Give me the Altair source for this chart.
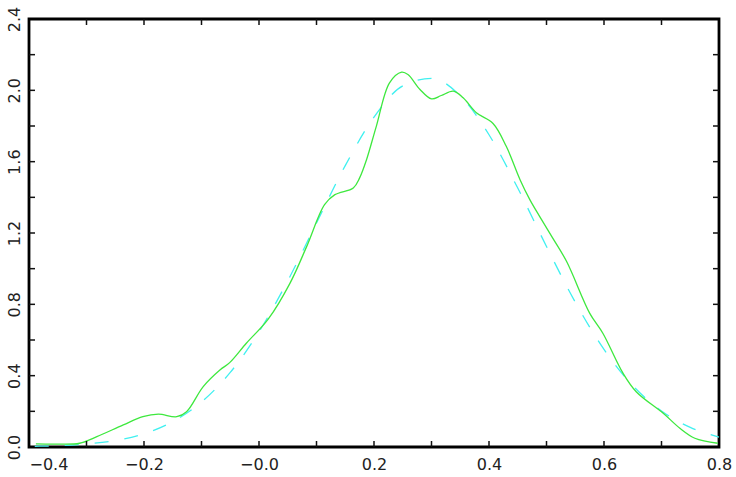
import altair as alt
import pandas as pd

# Kernel density estimate (solid green)
kde_x = [-0.388, -0.35, -0.312, -0.282, -0.236, -0.202, -0.175, -0.143, -0.126,
         -0.097, -0.068, -0.051, -0.022, 0.016, 0.054, 0.083, 0.114, 0.132, 0.164,
         0.175, 0.187, 0.204, 0.227, 0.248, 0.259, 0.28, 0.30, 0.317, 0.338, 0.355,
         0.378, 0.407, 0.43, 0.454, 0.471, 0.488, 0.509, 0.535, 0.575, 0.598, 0.633,
         0.656, 0.703, 0.732, 0.758, 0.798]
kde_y = [0.017, 0.016, 0.021, 0.058, 0.124, 0.170, 0.184, 0.170, 0.198,
         0.339, 0.432, 0.473, 0.582, 0.717, 0.919, 1.125, 1.359, 1.415, 1.453,
         1.509, 1.611, 1.798, 2.042, 2.102, 2.089, 2.005, 1.952, 1.971, 1.995, 1.958,
         1.874, 1.814, 1.686, 1.499, 1.387, 1.293, 1.181, 1.040, 0.751, 0.638, 0.414,
         0.310, 0.189, 0.105, 0.049, 0.021]

# Fitted normal density (dashed cyan)
fit_x = [-0.39, -0.35, -0.30, -0.25, -0.20, -0.15, -0.10, -0.05, 0.00, 0.05, 0.10,
         0.15, 0.20, 0.25, 0.30, 0.35, 0.40, 0.45, 0.50, 0.55, 0.60, 0.65, 0.70,
         0.75, 0.80]
fit_y = [0.004, 0.007, 0.017, 0.036, 0.074, 0.142, 0.252, 0.418, 0.646, 0.932, 1.256,
         1.578, 1.850, 2.025, 2.067, 1.969, 1.751, 1.452, 1.124, 0.812, 0.547, 0.344,
         0.202, 0.110, 0.056]

x_labels = [-0.4, -0.2, 0.0, 0.2, 0.4, 0.6, 0.8]
y_labels = [0.0, 0.4, 0.8, 1.2, 1.6, 2.0, 2.4]
x_minor = [-0.3, -0.2, -0.1, 0.0, 0.1, 0.2, 0.3, 0.4, 0.5, 0.6, 0.7]
y_minor = [0.2, 0.4, 0.6, 0.8, 1.0, 1.2, 1.4, 1.6, 1.8, 2.0, 2.2]

W, H = 690, 428
TICK = 6
FONT = "DejaVu Sans"

xs = alt.Scale(domain=[-0.4, 0.8], nice=False, zero=False)
ys = alt.Scale(domain=[0, 2.4], nice=False, zero=False)

kde = pd.DataFrame({"x": kde_x, "y": kde_y})
fit = pd.DataFrame({"x": fit_x, "y": fit_y})
xt = pd.DataFrame({"t": x_minor})
yt = pd.DataFrame({"t": y_minor})

x_axis = alt.Axis(
    values=x_labels, title=None, ticks=False, domain=False, grid=False,
    labelExpr="datum.value == 0 ? '\u22120.0' : format(datum.value, '.1f')",
    labelAlign={"condition": {"test": "datum.value < -0.35", "value": "left"},
                "value": "center"},
    labelFont=FONT, labelFontSize=16, labelColor="#222", labelPadding=9,
    labelOverlap=False, labelBound=False, labelFlush=False,
)
y_axis = alt.Axis(
    values=y_labels, title=None, ticks=False, domain=False, grid=False,
    format=".1f", labelAngle=270, labelAlign="center", labelBaseline="bottom",
    labelFont=FONT, labelFontSize=16, labelColor="#222", labelPadding=7,
    labelOverlap=False, labelBound=False, labelFlush=False,
)

fit_line = alt.Chart(fit).mark_line(
    color="#3ff0f0", strokeWidth=1.3, strokeDash=[14, 16], interpolate="monotone"
).encode(
    x=alt.X("x:Q", scale=xs, axis=x_axis),
    y=alt.Y("y:Q", scale=ys, axis=y_axis),
)

kde_line = alt.Chart(kde).mark_line(
    color="#3ee83e", strokeWidth=1.3, interpolate="catmull-rom"
).encode(
    x=alt.X("x:Q", scale=xs),
    y=alt.Y("y:Q", scale=ys),
)

tick_style = dict(color="#111", strokeWidth=1.5)
x_bottom = alt.Chart(xt).mark_rule(**tick_style).encode(
    x=alt.X("t:Q", scale=xs), y=alt.value(H), y2=alt.value(H - TICK))
x_top = alt.Chart(xt).mark_rule(**tick_style).encode(
    x=alt.X("t:Q", scale=xs), y=alt.value(0), y2=alt.value(TICK))
y_left = alt.Chart(yt).mark_rule(**tick_style).encode(
    y=alt.Y("t:Q", scale=ys), x=alt.value(0), x2=alt.value(TICK))
y_right = alt.Chart(yt).mark_rule(**tick_style).encode(
    y=alt.Y("t:Q", scale=ys), x=alt.value(W), x2=alt.value(W - TICK))

chart = alt.layer(
    fit_line, kde_line, x_bottom, x_top, y_left, y_right
).properties(
    width=W, height=H,
    background="white",
    autosize=alt.AutoSizeParams(type="none"),
    padding={"left": 29, "top": 19, "right": 17, "bottom": 30},
).configure_view(
    stroke="#000", strokeWidth=2.8
)

chart.save("out.html", embed_options={"renderer": "svg", "actions": False})
